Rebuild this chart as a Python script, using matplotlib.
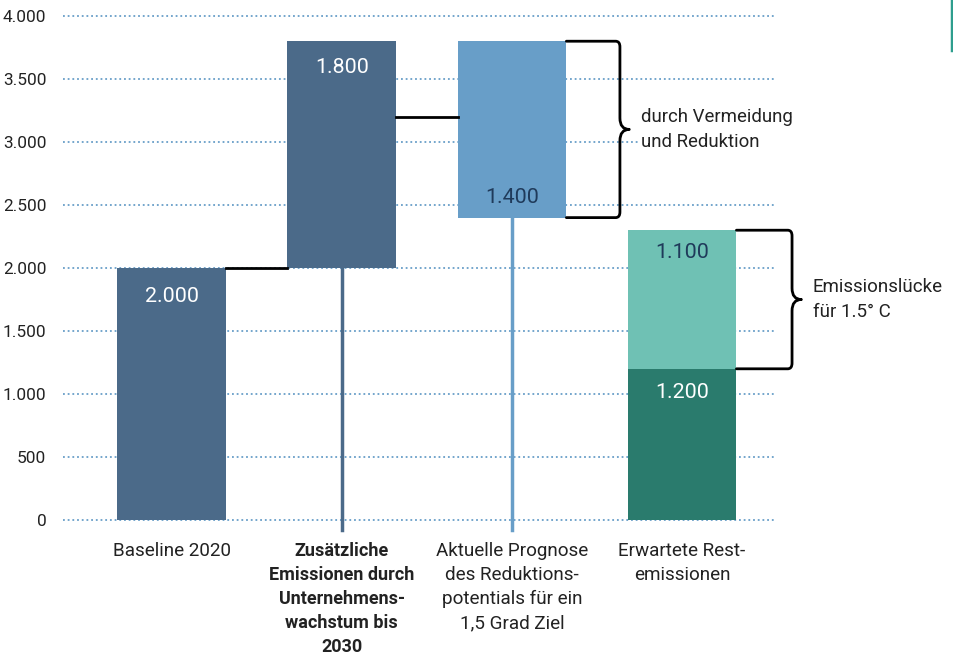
import matplotlib.pyplot as plt
from matplotlib.path import Path
from matplotlib.patches import PathPatch
from matplotlib.lines import Line2D
from matplotlib.ticker import FuncFormatter

plt.rcParams['font.family'] = ['Roboto', 'DejaVu Sans']

categories = ['Baseline 2020',
              'Zusätzliche\nEmissionen durch\nUnternehmens-\nwachstum bis\n2030',
              'Aktuelle Prognose\ndes Reduktions-\npotentials für ein\n1,5 Grad Ziel',
              'Erwartete Rest-\nemissionen']

baseline = 2000
growth = 1800
reduction = 1400
rest_low = 1200
rest_gap = 1100
link_level = 3200

dark_blue = '#4b6a89'
light_blue = '#689ec8'
mint = '#6fc1b4'
dark_green = '#2a7b6d'
navy_text = '#1f3a5a'

fig = plt.figure(figsize=(9.54, 6.54), dpi=100)
ax = fig.add_axes([0.066, 0.2049, 0.7464, 0.7706])

w = 0.64
top2 = baseline + growth
bottom3 = top2 - reduction
top4 = rest_low + rest_gap

ax.bar(0, baseline, width=w, color=dark_blue, zorder=2)
ax.bar(1, growth, bottom=baseline, width=w, color=dark_blue, zorder=2)
ax.bar(2, reduction, bottom=bottom3, width=w, color=light_blue, zorder=2)
ax.bar(3, rest_low, width=w, color=dark_green, zorder=2)
ax.bar(3, rest_gap, bottom=rest_low, width=w, color=mint, zorder=2)

# stems below the floating bars
ax.plot([1, 1], [baseline, -80], color=dark_blue, lw=2.5, zorder=1, clip_on=False)
ax.plot([2, 2], [bottom3, -80], color=light_blue, lw=2.5, zorder=1, clip_on=False)

# connectors between bars
ax.plot([w / 2, 1 - w / 2], [baseline, baseline], color='black', lw=2, zorder=3)
ax.plot([1 + w / 2, 2 - w / 2], [link_level, link_level], color='black', lw=2, zorder=3)


def brace(x0, xb, y_top, y_bot, tip=0.055, r=0.025, ry=45):
    ym = (y_top + y_bot) / 2
    verts = [(x0, y_top), (xb - r, y_top),
             (xb, y_top), (xb, y_top - ry),
             (xb, ym + 2 * ry),
             (xb, ym), (xb + tip, ym),
             (xb, ym), (xb, ym - 2 * ry),
             (xb, y_bot + ry),
             (xb, y_bot), (xb - r, y_bot),
             (x0, y_bot)]
    codes = [Path.MOVETO, Path.LINETO,
             Path.CURVE3, Path.CURVE3,
             Path.LINETO,
             Path.CURVE3, Path.CURVE3,
             Path.CURVE3, Path.CURVE3,
             Path.LINETO,
             Path.CURVE3, Path.CURVE3,
             Path.LINETO]
    ax.add_patch(PathPatch(Path(verts, codes), fill=False, lw=2,
                           edgecolor='black', zorder=3, clip_on=False,
                           capstyle='round', joinstyle='round'))
    return ym


m1 = brace(2 + w / 2, 2.635, top2, bottom3)
m2 = brace(3 + w / 2, 3.647, top4, rest_low)

ax.text(2.76, m1, 'durch Vermeidung\nund Reduktion', fontsize=13.4,
        va='center', ha='left', color='#222222', linespacing=1.45, zorder=3,
        bbox=dict(facecolor='white', edgecolor='none', pad=1))
ax.text(3.77, m2, 'Emissionslücke\nfür 1.5° C', fontsize=13.5,
        va='center', ha='left', color='#222222', linespacing=1.45, clip_on=False)


def fmt(v):
    return f'{v:,.0f}'.replace(',', '.')


ax.text(0, baseline - 230, fmt(baseline), ha='center', va='center', color='white', fontsize=15.4, zorder=4)
ax.text(1, top2 - 210, fmt(growth), ha='center', va='center', color='white', fontsize=15.4, zorder=4)
ax.text(2, bottom3 + 160, fmt(reduction), ha='center', va='center', color=navy_text, fontsize=15.4, zorder=4)
ax.text(3, rest_low - 190, fmt(rest_low), ha='center', va='center', color='white', fontsize=15.4, zorder=4)
ax.text(3, top4 - 180, fmt(rest_gap), ha='center', va='center', color=navy_text, fontsize=15.4, zorder=4)

ax.set_xlim(-0.64, 3.547)
ax.set_ylim(0, 4000)
ax.set_yticks(range(0, 4001, 500))
ax.yaxis.set_major_formatter(FuncFormatter(lambda v, p: fmt(v)))
ax.set_xticks(range(len(categories)))
ax.set_xticklabels(categories, fontsize=13.6, linespacing=1.42, color='#222222')
bold_label = ax.get_xticklabels()[1]
bold_label.set_fontweight('bold')
bold_label.set_fontsize(13.0)
ax.tick_params(axis='x', length=0, pad=16)
ax.tick_params(axis='y', length=0, pad=12, labelsize=12.4, labelcolor='#222222')
for s in ax.spines.values():
    s.set_visible(False)
ax.grid(axis='y', color=light_blue, linestyle=(0, (1, 1.6)), lw=1.3, zorder=0)
for gl in ax.get_ygridlines():
    gl.set_clip_on(False)
ax.set_axisbelow(True)

fig.add_artist(Line2D([0.9975, 0.9975], [1, 1 - 50 / 654], color='#2e9e8e', lw=2.5))

fig.savefig('out.png')
